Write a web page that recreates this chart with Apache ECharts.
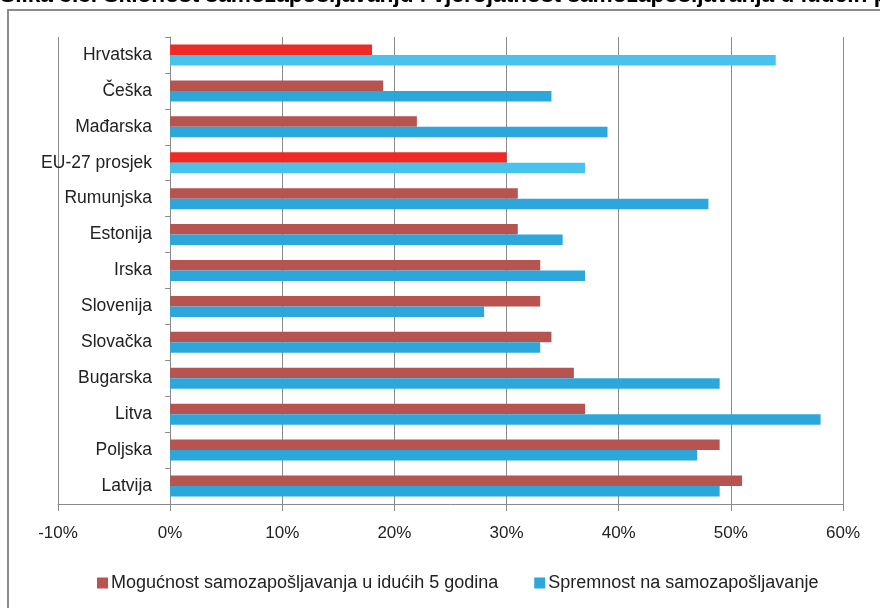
<!DOCTYPE html>
<html>
<head>
<meta charset="utf-8">
<script src="https://cdn.jsdelivr.net/npm/echarts@6/dist/echarts.min.js"></script>
<style>
html,body{margin:0;padding:0;background:#fff;}
#chart{width:880px;height:608px;}
</style>
</head>
<body>
<div id="chart"></div>
<script>
const titleText = 'Slika 3.3. Sklonost samozapošljavanju i vjerojatnost samozapošljavanja u idućih pet godina';
const categories = ['Hrvatska','Češka','Mađarska','EU-27 prosjek','Rumunjska','Estonija','Irska','Slovenija','Slovačka','Bugarska','Litva','Poljska','Latvija'];
const seriesNames = ['Mogućnost samozapošljavanja u idućih 5 godina','Spremnost na samozapošljavanje'];
const mogucnost = [18, 19, 22, 30, 31, 31, 33, 33, 34, 36, 37, 49, 51];
const spremnost = [54, 34, 39, 37, 48, 35, 37, 28, 33, 49, 58, 47, 49];
const highlighted = ['Hrvatska','EU-27 prosjek'];
const xTicks = {min: -10, max: 60, interval: 10};

const colors = {
  brown: '#B85450', red: '#EE2A26',
  blue: '#2BA7DB', lightBlue: '#47C3EE'
};

function styled(values, hi) {
  return values.map((v, i) => highlighted.includes(categories[i])
    ? {value: v, itemStyle: {color: hi}}
    : {value: v});
}

const font = 'Liberation Sans, Arial, sans-serif';
const chart = echarts.init(document.getElementById('chart'), null, {renderer: 'canvas'});
chart.setOption({
  animation: false,
  backgroundColor: '#fff',
  graphic: [
    {type: 'rect', shape: {x: 8, y: 10, width: 900, height: 700},
     style: {fill: 'none', stroke: '#8c8c8c', lineWidth: 2}, z: -1},
    {type: 'text', x: 0, y: 7,
     style: {text: titleText, font: 'bold 22.7px ' + font, fill: '#000',
             textVerticalAlign: 'bottom'}}
  ],
  grid: {left: 58, right: 37, top: 37, bottom: 104, containLabel: false, outerBoundsMode: 'none'},
  legend: {
    left: 92, top: 569,
    itemWidth: 11, itemHeight: 11, itemGap: 36,
    icon: 'rect',
    textStyle: {fontFamily: font, fontSize: 18, color: '#222', padding: [0,0,0,-2]},
    data: seriesNames
  },
  xAxis: {
    type: 'value', min: xTicks.min, max: xTicks.max, interval: xTicks.interval,
    axisLine: {show: true, lineStyle: {color: '#8a8a8a', width: 1}},
    axisTick: {show: true, length: 7, lineStyle: {color: '#8a8a8a'}},
    axisLabel: {formatter: '{value}%', fontFamily: font, fontSize: 17, color: '#222', margin: 21},
    splitLine: {show: true, lineStyle: {color: '#8a8a8a', width: 1}}
  },
  yAxis: {
    type: 'category', data: categories, inverse: true,
    axisLine: {show: true, onZero: true, lineStyle: {color: '#8a8a8a', width: 1}},
    axisTick: {show: true, length: 5, lineStyle: {color: '#8a8a8a'}},
    axisLabel: {fontFamily: font, fontSize: 17.5, color: '#222', margin: -94}
  },
  series: [
    {name: seriesNames[0], type: 'bar', data: styled(mogucnost, colors.red),
     itemStyle: {color: colors.brown}, barWidth: 10.5, barGap: '0%'},
    {name: seriesNames[1], type: 'bar', data: styled(spremnost, colors.lightBlue),
     itemStyle: {color: colors.blue}, barWidth: 10.5, barGap: '0%'}
  ]
});
</script>
</body>
</html>
